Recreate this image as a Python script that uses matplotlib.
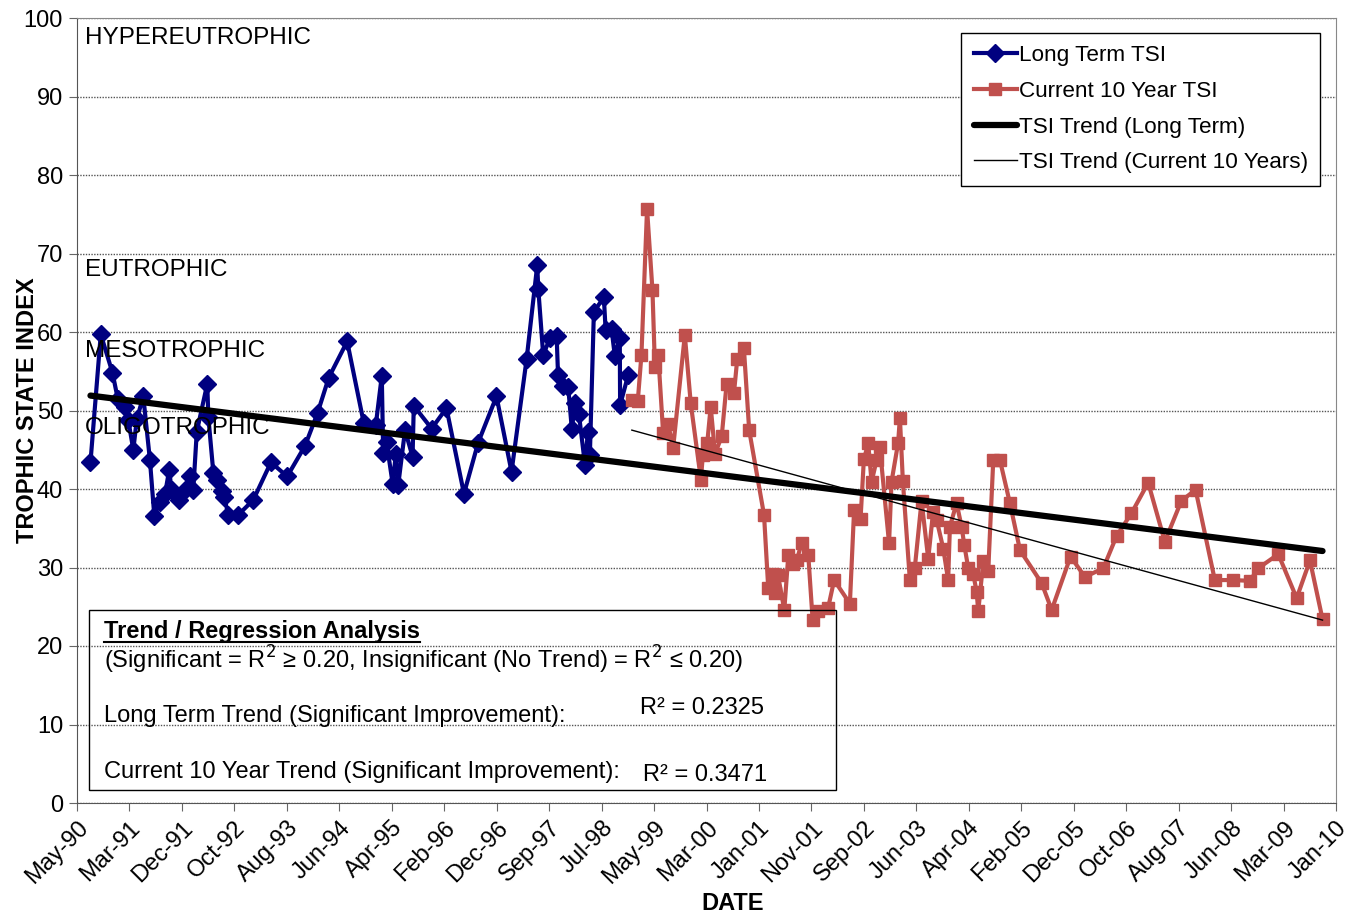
import numpy as np
import matplotlib as mpl
mpl.use('Agg')
import matplotlib.pyplot as plt
from matplotlib.lines import Line2D
from matplotlib.patches import Rectangle

plt.rcParams['font.family'] = ['Liberation Sans', 'DejaVu Sans']

# long term TSI (blue)
blue_dates = ['1990-07-24', '1990-09-21', '1990-11-27', '1990-12-27', '1991-02-06', '1991-02-25',
              '1991-03-26', '1991-04-15', '1991-05-22', '1991-06-29', '1991-07-24', '1991-08-25',
              '1991-09-23', '1991-10-17', '1991-10-31', '1991-12-12', '1992-01-15', '1992-02-13',
              '1992-03-03', '1992-03-23', '1992-05-22', '1992-05-28', '1992-06-26', '1992-07-15',
              '1992-08-13', '1992-08-27', '1992-09-19', '1992-11-15', '1993-02-09', '1993-05-21',
              '1993-08-22', '1993-12-02', '1994-02-12', '1994-04-17', '1994-07-31', '1994-11-03',
              '1995-01-11', '1995-02-14', '1995-02-22', '1995-03-13', '1995-04-17', '1995-05-06',
              '1995-05-19', '1995-06-27', '1995-08-09', '1995-08-16', '1995-11-26', '1996-02-19',
              '1996-05-29', '1996-08-18', '1996-12-01', '1997-02-25', '1997-05-22', '1997-07-22',
              '1997-07-28', '1997-08-25', '1997-10-03', '1997-11-10', '1997-11-18', '1997-12-17',
              '1998-01-15', '1998-02-05', '1998-02-22', '1998-03-17', '1998-04-21', '1998-05-08',
              '1998-05-19', '1998-06-11', '1998-08-07', '1998-08-17', '1998-09-20', '1998-10-09',
              '1998-11-06', '1998-11-08', '1998-12-24']
blue_tsi = [43.4, 59.7, 54.8, 51.5, 50.4, 48.8, 45.0, 48.9, 51.8, 43.7, 36.6, 38.4,
            39.3, 42.4, 39.9, 38.6, 39.9, 41.6, 39.9, 47.3, 53.4, 49.2, 42.0, 41.1,
            39.7, 39.0, 36.7, 36.7, 38.6, 43.4, 41.6, 45.5, 49.7, 54.2, 58.8, 48.4,
            48.2, 54.4, 44.6, 46.0, 40.7, 44.5, 40.5, 47.5, 44.1, 50.6, 47.7, 50.3,
            39.4, 45.9, 51.8, 42.2, 56.5, 68.5, 65.5, 57.1, 59.2, 59.5, 54.5, 53.1,
            53.0, 47.6, 50.9, 49.6, 43.1, 47.3, 44.3, 62.6, 64.4, 60.3, 60.4, 56.9,
            59.2, 50.7, 54.5]

# current 10 year TSI (red)
red_dates = ['1999-01-14', '1999-02-17', '1999-03-10', '1999-04-11', '1999-05-12', '1999-05-26',
             '1999-06-14', '1999-07-12', '1999-08-10', '1999-09-07', '1999-11-13', '1999-12-17',
             '2000-02-13', '2000-02-24', '2000-03-20', '2000-04-09', '2000-05-04', '2000-06-11',
             '2000-07-09', '2000-08-20', '2000-09-08', '2000-10-16', '2000-11-15', '2001-02-08',
             '2001-03-04', '2001-04-01', '2001-04-12', '2001-04-29', '2001-06-04', '2001-06-27',
             '2001-07-23', '2001-08-15', '2001-09-11', '2001-10-19', '2001-11-13', '2001-12-15',
             '2002-02-09', '2002-03-16', '2002-06-14', '2002-07-08', '2002-08-14', '2002-09-02',
             '2002-09-27', '2002-10-16', '2002-11-14', '2002-12-02', '2003-01-24', '2003-02-07',
             '2003-03-17', '2003-03-27', '2003-04-13', '2003-05-23', '2003-06-20', '2003-07-29',
             '2003-09-05', '2003-10-03', '2003-10-23', '2003-11-30', '2003-12-28', '2004-01-07',
             '2004-02-14', '2004-03-14', '2004-03-29', '2004-04-21', '2004-05-19', '2004-06-08',
             '2004-06-17', '2004-07-16', '2004-08-13', '2004-09-11', '2004-10-19', '2004-12-15',
             '2005-02-11', '2005-06-15', '2005-08-11', '2005-11-27', '2006-02-17', '2006-06-02',
             '2006-08-17', '2006-11-10', '2007-02-14', '2007-05-20', '2007-08-23', '2007-11-12',
             '2008-03-01', '2008-06-11', '2008-09-18', '2008-11-04', '2009-02-27', '2009-06-12',
             '2009-08-27', '2009-11-07']
red_tsi = [51.3, 51.2, 57.1, 75.7, 65.3, 55.6, 57.1, 47.1, 48.3, 45.2, 59.6, 50.9,
           41.2, 44.3, 45.8, 50.5, 44.5, 46.7, 53.4, 52.2, 56.6, 57.9, 47.5, 36.7,
           27.4, 29.2, 26.7, 29.0, 24.6, 31.6, 30.5, 31.0, 33.1, 31.6, 23.3, 24.4,
           24.8, 28.4, 25.4, 37.3, 36.2, 43.8, 45.8, 40.9, 43.7, 45.4, 33.1, 40.9,
           45.9, 49.1, 41.0, 28.4, 29.9, 38.5, 31.1, 37.1, 36.1, 32.4, 28.4, 35.2,
           38.2, 35.2, 32.9, 29.9, 29.2, 26.9, 24.4, 30.8, 29.5, 43.7, 43.7, 38.2,
           32.2, 28.0, 24.6, 31.4, 28.8, 29.9, 34.0, 36.9, 40.8, 33.3, 38.5, 39.9,
           28.4, 28.4, 28.3, 29.9, 31.7, 26.1, 30.9, 23.4]

# trend line end points
long_trend_dates = ['1990-07-24', '2009-11-07']
long_trend_tsi = [51.9, 32.1]
cur_trend_dates = ['1999-01-14', '2009-11-07']
cur_trend_tsi = [47.5, 23.3]

tick_labels = ['May-90', 'Mar-91', 'Dec-91', 'Oct-92', 'Aug-93', 'Jun-94', 'Apr-95', 'Feb-96',
               'Dec-96', 'Sep-97', 'Jul-98', 'May-99', 'Mar-00', 'Jan-01', 'Nov-01', 'Sep-02',
               'Jun-03', 'Apr-04', 'Feb-05', 'Dec-05', 'Oct-06', 'Aug-07', 'Jun-08', 'Mar-09',
               'Jan-10']
zones = ['HYPEREUTROPHIC', 'EUTROPHIC', 'MESOTROPHIC', 'OLIGOTROPHIC']
zone_y = [97.5, 67.9, 57.6, 47.8]

W, H = 1354, 915
fig = plt.figure(figsize=(W / 100, H / 100), dpi=100)
ax = fig.add_axes([77 / W, 1 - 803 / H, (1336 - 77) / W, (803 - 18) / H])

ax.plot(np.array(blue_dates, dtype='datetime64[D]'), blue_tsi, color='#000080', lw=3,
        marker='D', ms=9, label='Long Term TSI', zorder=3)
ax.plot(np.array(red_dates, dtype='datetime64[D]'), red_tsi, color='#C0504D', lw=3,
        marker='s', ms=9, label='Current 10 Year TSI', zorder=3)
ax.plot(np.array(long_trend_dates, dtype='datetime64[D]'), long_trend_tsi, color='black',
        lw=4.5, solid_capstyle='round', label='TSI Trend (Long Term)', zorder=4)
ax.plot(np.array(cur_trend_dates, dtype='datetime64[D]'), cur_trend_tsi, color='black',
        lw=1, label='TSI Trend (Current 10 Years)', zorder=4)

ticks = np.datetime64('1990-05-08') + np.arange(len(tick_labels)) * np.timedelta64(300, 'D')
ax.set_xticks(ticks)
ax.set_xticklabels(tick_labels, rotation=45, ha='right', rotation_mode='anchor')
ax.set_xlim(ticks[0], ticks[-1])
ax.set_ylim(0, 100)
ax.set_yticks(np.arange(0, 101, 10))
ax.tick_params(labelsize=17, direction='out', length=6, color='#666666', pad=4)
ax.yaxis.grid(True, linestyle=(0, (1, 1)), color='#555555', lw=1)
ax.set_axisbelow(True)
for s in ['left', 'bottom']:
    ax.spines[s].set_color('#555555')
for s in ['top', 'right']:
    ax.spines[s].set_color('#888888')

for z, y in zip(zones, zone_y):
    ax.text(0.006, y, z, transform=ax.get_yaxis_transform(), fontsize=17.5, va='center', zorder=6)

leg = ax.legend(loc='upper right', bbox_to_anchor=(0.9875, 0.981), fontsize=16.2, frameon=True,
                fancybox=False, framealpha=1, edgecolor='black', handlelength=1.9,
                handletextpad=0.1, labelspacing=0.65, borderpad=0.55, borderaxespad=0)
leg.get_frame().set_linewidth(1)

# regression analysis box
ax.add_patch(Rectangle((0.0095, 0.0166), 0.5932, 0.2293, transform=ax.transAxes,
                       fill=False, edgecolor='black', lw=1, zorder=5))
narrow = ['Liberation Sans Narrow', 'Liberation Sans', 'DejaVu Sans']
tx = 0.0214
yt = ax.get_yaxis_transform()
title = ax.text(tx, 21.8, 'Trend / Regression Analysis', transform=yt, family=narrow,
                fontsize=17, weight='bold', va='center', zorder=6)
ax.text(tx, 18.2, '(Significant = R$^2$ \u2265 0.20, Insignificant (No Trend) = R$^2$ \u2264 0.20)',
        transform=yt, family=narrow, fontsize=17, va='center', zorder=6)
ax.text(tx, 11.1, 'Long Term Trend (Significant Improvement):', transform=yt, family=narrow,
        fontsize=17, va='center', zorder=6)
ax.text(0.447, 12.1, 'R\u00b2 = 0.2325', transform=yt, family=narrow, fontsize=17, va='center', zorder=6)
ax.text(tx, 3.95, 'Current 10 Year Trend (Significant Improvement):', transform=yt, family=narrow,
        fontsize=17, va='center', zorder=6)
ax.text(0.4496, 3.6, 'R\u00b2 = 0.3471', transform=yt, family=narrow, fontsize=17, va='center', zorder=6)

fig.text(28 / W, 1 - 410 / H, 'TROPHIC STATE INDEX', rotation=90, fontsize=17, weight='bold',
         ha='center', va='center')
fig.text(733 / W, 1 - 903 / H, 'DATE', fontsize=17, weight='bold', ha='center', va='center')

fig.canvas.draw()
bb = title.get_window_extent()
fig.add_artist(Line2D([bb.x0 / W, bb.x1 / W], [(bb.y0 + 1) / H] * 2, transform=fig.transFigure,
                      color='black', lw=1.5))

fig.savefig('out.png', dpi=100)
